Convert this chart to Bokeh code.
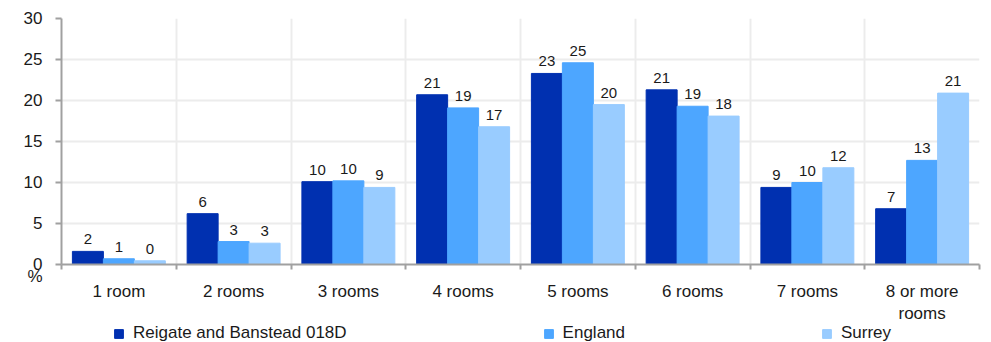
import numpy as np
from bokeh.plotting import figure
from bokeh.layouts import column
from bokeh.models import (ColumnDataSource, FixedTicker, CustomJSTickFormatter, Legend,
                          LegendItem, Range1d)
from bokeh.core.properties import value
from bokeh.transform import dodge
from bokeh.embed import file_html
from bokeh.resources import INLINE

categories = ["1 room", "2 rooms", "3 rooms", "4 rooms", "5 rooms", "6 rooms", "7 rooms", "8 or more\nrooms"]
series_names = ["Reigate and Banstead 018D", "England", "Surrey"]
reigate = [1.6, 6.2, 10.1, 20.7, 23.3, 21.3, 9.4, 6.8]
england = [0.7, 2.8, 10.2, 19.1, 24.6, 19.3, 10.0, 12.7]
surrey = [0.45, 2.6, 9.4, 16.8, 19.5, 18.1, 11.8, 20.9]
y_ticks = [0, 5, 10, 15, 20, 25, 30]
y_unit = "%"
colors = ["#0030b0", "#4da6ff", "#99ccff"]

FONT = "Liberation Sans"
TXT = "#1a1a1a"

idx = np.arange(len(categories))
src = ColumnDataSource(dict(
    x=idx,
    r=reigate, e=england, s=surrey,
    rl=["%d" % round(v) for v in reigate],
    el=["%d" % round(v) for v in england],
    sl=["%d" % round(v) for v in surrey],
))

p = figure(width=991, height=326, output_backend="svg", toolbar_location=None,
           x_range=Range1d(-0.5, len(categories) - 0.5), y_range=Range1d(0, 30),
           min_border_left=61, min_border_right=12, min_border_top=18, min_border_bottom=62)
p.outline_line_color = None
p.background_fill_color = "white"

offsets = [-0.27, 0.0, 0.27]
for col, lab, off, c in zip(["r", "e", "s"], ["rl", "el", "sl"], offsets, colors):
    p.vbar(x=dodge("x", off, range=p.x_range), top=col, width=0.27, bottom=0,
           source=src, fill_color=c, line_color=c)
    p.text(x=dodge("x", off, range=p.x_range), y=col, text=lab, source=src,
           text_align="center", text_baseline="bottom", y_offset=-7,
           text_font=value(FONT), text_font_size="15px", text_color=TXT)

# y axis; the unit "%" sits just under the "0" tick label
p.yaxis.ticker = FixedTicker(ticks=y_ticks)
p.yaxis.formatter = CustomJSTickFormatter(args=dict(unit=y_unit),
                                          code="return tick == 0 ? '\\n0\\n' + unit : String(tick);")
p.yaxis.axis_line_color = "#a0a0a0"
p.yaxis.axis_line_width = 2
p.yaxis.major_tick_line_color = "#a0a0a0"
p.yaxis.major_tick_line_width = 2
p.yaxis.major_tick_out = 6
p.yaxis.major_tick_in = 0
p.yaxis.minor_tick_line_color = None
p.yaxis.major_label_standoff = 13
p.yaxis.major_label_text_font = FONT
p.yaxis.major_label_text_font_size = "17px"
p.yaxis.major_label_text_color = TXT
p.yaxis.major_label_text_line_height = 0.65

bounds = list(np.arange(len(categories) + 1) - 0.5)
p.xaxis.ticker = FixedTicker(ticks=list(idx), minor_ticks=bounds)
p.xaxis.formatter = CustomJSTickFormatter(args=dict(labels=categories),
                                          code="return labels[Math.round(tick)] || '';")
p.xaxis.axis_line_color = "#a0a0a0"
p.xaxis.axis_line_width = 2
p.xaxis.major_tick_line_color = None
p.xaxis.major_tick_out = 0
p.xaxis.major_tick_in = 0
p.xaxis.minor_tick_line_color = "#a0a0a0"
p.xaxis.minor_tick_line_width = 2
p.xaxis.minor_tick_out = 5
p.xaxis.minor_tick_in = 0
p.xaxis.major_label_standoff = 12
p.xaxis.major_label_text_font = FONT
p.xaxis.major_label_text_font_size = "17px"
p.xaxis.major_label_text_color = TXT

p.xgrid.ticker = FixedTicker(ticks=bounds)
p.xgrid.grid_line_color = "#ececec"
p.xgrid.grid_line_width = 2
p.ygrid.ticker = FixedTicker(ticks=y_ticks)
p.ygrid.grid_line_color = "#ececec"
p.ygrid.grid_line_width = 2

# legend strip under the chart (its frame is aligned with the chart frame);
# it slightly overlaps the empty bottom edge of the chart canvas
lf = figure(width=991, height=22, output_backend="svg", toolbar_location=None,
            x_range=Range1d(0, 1), y_range=Range1d(100, 101), x_axis_type=None, y_axis_type=None,
            min_border=0, margin=(-6, 0, 0, 0))
lf.outline_line_color = None
lf.xgrid.visible = False
lf.ygrid.visible = False
lf.border_fill_alpha = 0
lf.background_fill_alpha = 0
items = []
for n, col, c in zip(series_names, ["r", "e", "s"], colors):
    # same series in the strip, entirely outside its visible range: only the legend shows
    r = lf.vbar(x="x", top=col, width=0.27, source=src, fill_color=c, line_color=c)
    items.append(LegendItem(label=n, renderers=[r]))
legend = Legend(items=items, location=(52, -1), orientation="horizontal", padding=0, margin=0,
                glyph_width=11, glyph_height=11, label_standoff=9, spacing=196,
                label_text_font=FONT, label_text_font_size="17px", label_text_color=TXT,
                border_line_color=None, background_fill_alpha=0, label_height=16)
lf.add_layout(legend, "center")

layout = column(p, lf, spacing=0)
open("out.html", "w").write(file_html(layout, INLINE))
